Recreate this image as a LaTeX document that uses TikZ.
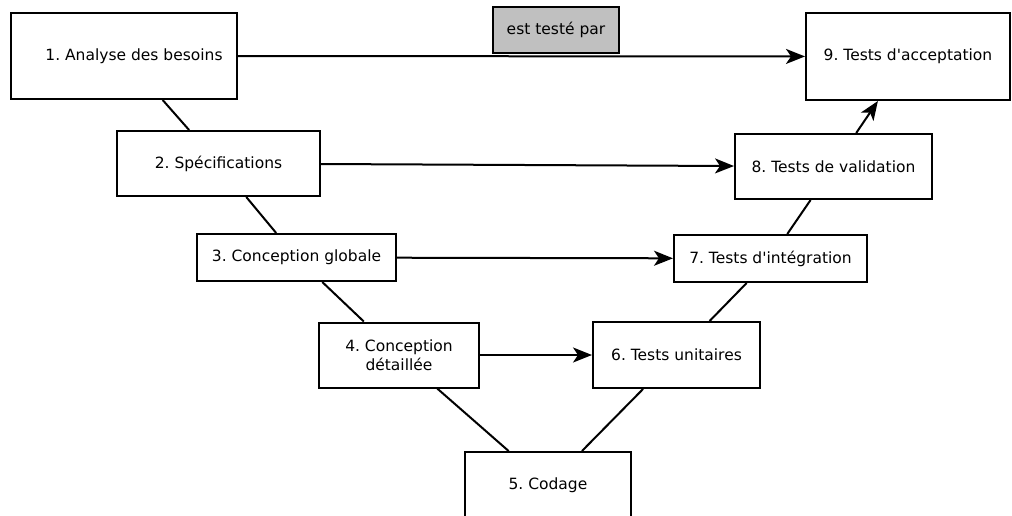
\documentclass[tikz,border=0pt]{standalone}
\usepackage{fontspec}
\setmainfont{DejaVu Sans}[Ligatures=TeXOff]
\usepackage{tikz}
\usetikzlibrary{arrows.meta}
\definecolor{grisclair}{RGB}{192,192,192}
\frenchspacing

\begin{document}
\begin{tikzpicture}[x=1pt, y=-1pt,
    etape/.style={draw, line width=2pt, inner sep=0pt, align=center,
                  font=\fontsize{15.5}{18.5}\selectfont},
    lien/.style={line width=2pt},
    fleche/.style={line width=2pt, -{Stealth[length=19pt,width=15pt,inset=5pt]}}]
    \useasboundingbox (0,0) rectangle (1012,515);

    \node[etape, minimum width=226, minimum height=86] (ab)  at (124,56)     {\hspace*{20pt}1. Analyse des besoins};
    \node[etape, minimum width=203, minimum height=65] (spec) at (218.5,163.5) {2. Spécifications};
    \node[etape, minimum width=199, minimum height=47] (cg)  at (296.5,257.5) {3. Conception globale};
    \node[etape, minimum width=160, minimum height=65] (cd)  at (399,355)    {4. Conception\\détaillée};
    \node[etape, minimum width=166, minimum height=67] (cod) at (548,485.5)  {5. Codage};
    \node[etape, minimum width=167, minimum height=66] (tu)  at (676.5,355)  {6. Tests unitaires};
    \node[etape, minimum width=193, minimum height=47] (ti)  at (770.5,258.5) {7. Tests d'intégration};
    \node[etape, minimum width=197, minimum height=65] (tv)  at (833.5,166.5) {8. Tests de validation};
    \node[etape, minimum width=204, minimum height=87] (ta)  at (908,56.5)   {9. Tests d'acceptation};
    \node[etape, fill=grisclair, minimum width=126, minimum height=46] (tp) at (556,30) {est testé par};

    %edges
    \draw[lien] (ab)  -- (spec);
    \draw[lien] (spec) -- (cg);
    \draw[lien] (cg)  -- (cd);
    \draw[lien] (cd)  -- (cod);
    \draw[lien] (tu)  -- (cod);
    \draw[lien] (ti)  -- (tu);
    \draw[lien] (tv)  -- (ti);
    \draw[fleche] (tv) -- (ta);

    \draw[fleche] (ab)  -- (ta);
    \draw[fleche] (spec) -- (tv);
    \draw[fleche] (cg)  -- (ti);
    \draw[fleche] (cd)  -- (tu);
\end{tikzpicture}
\end{document}
